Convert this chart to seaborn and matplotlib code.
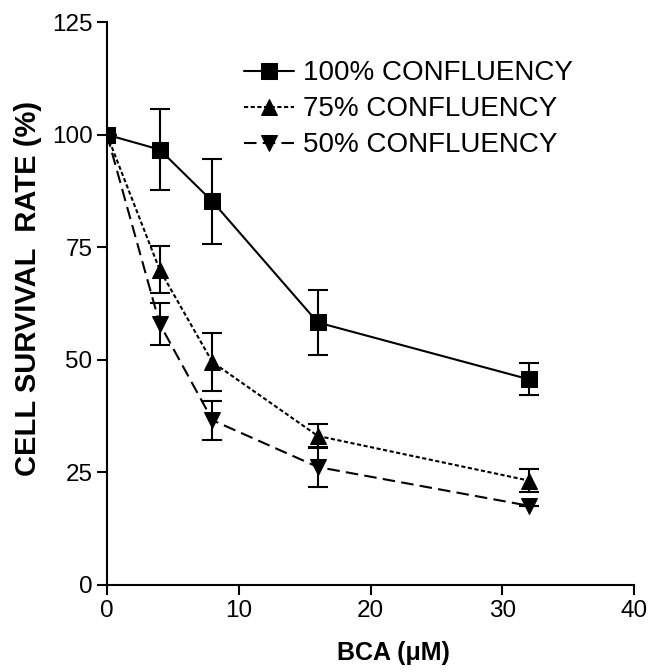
import matplotlib
matplotlib.use("Agg")
from matplotlib import pyplot as plt
import pandas as pd
import seaborn as sns

# BCA concentrations (uM)
bca = [0, 4, 8, 16, 32]
labels = ["100% CONFLUENCY", "75% CONFLUENCY", "50% CONFLUENCY"]
surv_100 = [100, 96.7, 85.2, 58.3, 45.7]
err_100 = [0, 9.0, 9.5, 7.2, 3.6]
surv_75 = [100, 70.0, 49.5, 33.1, 23.2]
err_75 = [0, 5.2, 6.4, 2.6, 2.5]
surv_50 = [100, 58.0, 36.6, 26.2, 17.6]
err_50 = [0, 4.6, 4.3, 4.5, 0]

xticks = [0, 10, 20, 30, 40]
yticks = [0, 25, 50, 75, 100, 125]

sns.set_style("ticks")
plt.rcParams['font.family'] = ['Liberation Sans', 'DejaVu Sans']
plt.rcParams['text.color'] = 'black'
plt.rcParams['axes.labelcolor'] = 'black'

data = pd.DataFrame({
    "bca": bca * 3,
    "surv": surv_100 + surv_75 + surv_50,
    "err": err_100 + err_75 + err_50,
    "grp": [labels[0]] * 5 + [labels[1]] * 5 + [labels[2]] * 5,
})

fig = plt.figure(figsize=(6.5, 6.72), dpi=100)
ax = fig.add_axes([0.1646, 0.1295, 0.8108, 0.8375])

markers = {labels[0]: "s", labels[1]: "^", labels[2]: "v"}
dashes = {labels[0]: "", labels[1]: (2, 1.2), labels[2]: (6, 3)}

# error bars first
for g, d in data.groupby("grp"):
    ax.errorbar(d["bca"], d["surv"], yerr=d["err"], fmt="none", ecolor="black",
                elinewidth=1.5, capsize=7, capthick=1.5, zorder=2)

sns.lineplot(data=data, x="bca", y="surv", hue="grp", style="grp",
             hue_order=labels, style_order=labels,
             palette=["black"] * 3, markers=markers, dashes=dashes,
             markersize=12, linewidth=1.5, markeredgecolor="black",
             errorbar=None, ax=ax)
lines = ax.get_lines()
for line in lines:
    line.set_zorder(4)
# square series on top at x=0
lines[0].set_zorder(5)

ax.set_xlim(0, 40)
ax.set_ylim(0, 125)
ax.set_xticks(xticks)
ax.set_yticks(yticks)
sns.despine(ax=ax)
for s in ["left", "bottom"]:
    ax.spines[s].set_linewidth(1.5)
    ax.spines[s].set_color("black")
ax.tick_params(direction="out", length=7, width=1.5, labelsize=17.5,
               colors="black", pad=3.5)

ax.set_xlabel("BCA (\u03bcM)", fontsize=18, fontweight="bold")
ax.set_ylabel("CELL SURVIVAL  RATE (%)", fontsize=21, fontweight="bold")
ax.xaxis.set_label_coords(0.543, -0.100)
ax.yaxis.set_label_coords(-0.123, 0.527)

leg = ax.legend(loc="upper left", bbox_to_anchor=(0.238, 0.952), frameon=False,
                fontsize=20, handlelength=1.8, handletextpad=0.35, labelspacing=0.36,
                borderaxespad=0)

fig.savefig("out.png", dpi=100)
